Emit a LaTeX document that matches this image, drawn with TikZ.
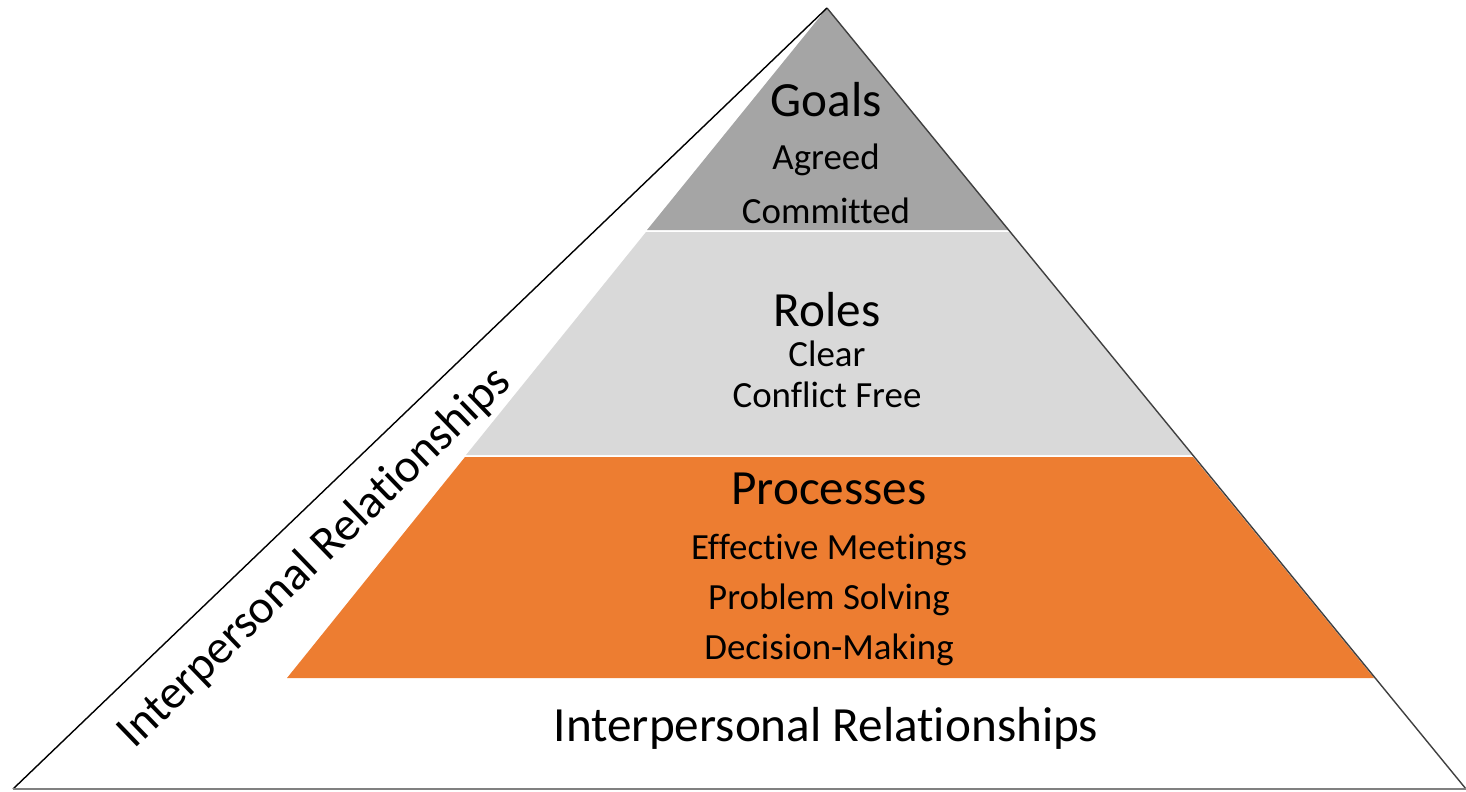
\documentclass[tikz,border=0pt]{standalone}
\usepackage{fontspec}
\setmainfont[Ligatures=NoCommon]{Carlito}
\usepackage{tikz}

\definecolor{goalgray}{HTML}{A5A5A5}
\definecolor{rolegray}{HTML}{D9D9D9}
\definecolor{procorange}{HTML}{ED7D31}
\definecolor{edgegray}{HTML}{404040}

\tikzset{
	layerhead/.style={font=\fontsize{28}{30}\selectfont},
	layeritem/.style={font=\fontsize{21}{23}\selectfont},
}

\begin{document}
\begin{tikzpicture}[x=0.02cm,y=-0.02cm]
			\useasboundingbox (0,0) rectangle (1466,791);
			\coordinate (apex) at (827,8);
			\coordinate (bl) at (13,789);
			\coordinate (br) at (1466,789);

			% layers
			\fill[goalgray] (apex) -- (1009,230) -- (647,230) -- cycle;
			\fill[rolegray] (646,232) -- (1010,232) -- (1192,455) -- (466,455) -- cycle;
			\fill[procorange] (465,457) -- (1193,457) -- (1374,678) -- (287,678) -- cycle;

			% outline
			\draw[edgegray, line width=0.8pt] (apex) -- (br);
			\draw[black, line width=0.8pt] (apex) -- (bl);
			\draw[gray, line width=1pt] (bl) -- (br);

				\node[layerhead] (goals) at (826,100) {Goals};
				\node[layeritem] (agreed) at (826,160) {Agreed};
				\node[layeritem] (committed) at (826,211) {Committed};

				\node[layerhead] (roles) at (827,310) {Roles};
				\node[layeritem] (clear) at (827,354) {Clear};
				\node[layeritem] (conflict) at (827,395) {Conflict Free};

				\node[layerhead] (processes) at (829,489) {Processes};
				\node[layeritem] (meetings) at (829,550) {Effective Meetings};
				\node[layeritem] (solving) at (829,600) {Problem Solving};
				\node[layeritem] (deciding) at (829,650) {Decision-Making};

			\node[layerhead] (baserel) at (826,728) {Interpersonal Relationships};
			\node[layerhead, font=\fontsize{27}{29}\selectfont, rotate=44] (siderel) at (315,558) {Interpersonal Relationships};

\end{tikzpicture}
\end{document}
